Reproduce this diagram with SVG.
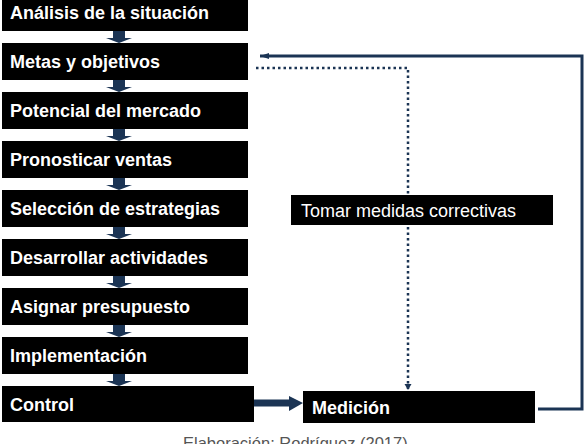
<svg xmlns="http://www.w3.org/2000/svg" width="586" height="444" viewBox="0 0 586 444">
<defs>
<style>
.box{fill:#000}
.t{font-family:"Liberation Sans",Arial,sans-serif;font-weight:bold;font-size:18px;fill:#fff}
.tr{font-family:"Liberation Sans",Arial,sans-serif;font-size:18px;fill:#fff}
.cap{font-family:"Liberation Sans",Arial,sans-serif;font-size:16.5px;fill:#555}
.down{fill:#1b3454}
.solid{fill:none;stroke:#1b3454;stroke-width:3}
.dot{fill:none;stroke:#1b3454;stroke-width:2.5;stroke-dasharray:2.5 3}
</style>
<marker id="ah" markerWidth="8" markerHeight="8" refX="6" refY="4" orient="auto" markerUnits="userSpaceOnUse">
<path d="M0,0.5 L6,4 L0,7.5 Z" fill="#1b3454"/>
</marker>
<marker id="ahs" markerWidth="10" markerHeight="8" refX="9" refY="4" orient="auto" markerUnits="userSpaceOnUse">
<path d="M0,1 L9,4 L0,7 Z" fill="#1b3454"/>
</marker>
<path id="dn" d="M-6,0 H6 V7 H13 L0,12 L-13,7 H-6 Z"/>
</defs>
<rect width="586" height="444" fill="#fff"/>

<g id="connectors">
<use href="#dn" class="down" x="119" y="31"/>
<use href="#dn" class="down" x="119" y="80"/>
<use href="#dn" class="down" x="119" y="129"/>
<use href="#dn" class="down" x="119" y="178"/>
<use href="#dn" class="down" x="119" y="227"/>
<use href="#dn" class="down" x="119" y="276"/>
<use href="#dn" class="down" x="119" y="325"/>
<use href="#dn" class="down" x="119" y="374"/>
<path d="M254,403 H290" stroke="#1b3454" stroke-width="7" fill="none"/>
<path d="M289,396 L303,403 L289,411 Z" fill="#1b3454"/>
<path class="solid" d="M538,409 H582 V56 H260" marker-end="url(#ahs)"/>
<path class="dot" d="M256,68 H408 V194"/>
<path class="dot" d="M408,227 V390" marker-end="url(#ah)"/>
</g>

<g id="n1"><rect class="box" x="2" y="-6" width="246" height="37"/><text class="t" x="10" y="19">Análisis de la situación</text></g>
<g id="n2"><rect class="box" x="2" y="43" width="246" height="37"/><text class="t" x="10" y="68">Metas y objetivos</text></g>
<g id="n3"><rect class="box" x="2" y="92" width="246" height="37"/><text class="t" x="10" y="117">Potencial del mercado</text></g>
<g id="n4"><rect class="box" x="2" y="141" width="246" height="37"/><text class="t" x="10" y="166">Pronosticar ventas</text></g>
<g id="n5"><rect class="box" x="2" y="190" width="246" height="37"/><text class="t" x="10" y="215">Selección de estrategias</text></g>
<g id="n6"><rect class="box" x="2" y="239" width="246" height="37"/><text class="t" x="10" y="264">Desarrollar actividades</text></g>
<g id="n7"><rect class="box" x="2" y="288" width="246" height="37"/><text class="t" x="10" y="313">Asignar presupuesto</text></g>
<g id="n8"><rect class="box" x="2" y="337" width="246" height="37"/><text class="t" x="10" y="362">Implementación</text></g>
<g id="n9"><rect class="box" x="2" y="386" width="252" height="36"/><text class="t" x="10" y="411">Control</text></g>
<g id="n10"><rect class="box" x="303" y="391" width="232" height="32"/><text class="t" x="312" y="414">Medición</text></g>
<g id="n11"><rect class="box" x="291" y="195" width="262" height="30"/><text class="tr" x="301" y="217">Tomar medidas correctivas</text></g>

<text class="cap" x="183" y="449">Elaboración: Rodríguez (2017)</text>
</svg>
